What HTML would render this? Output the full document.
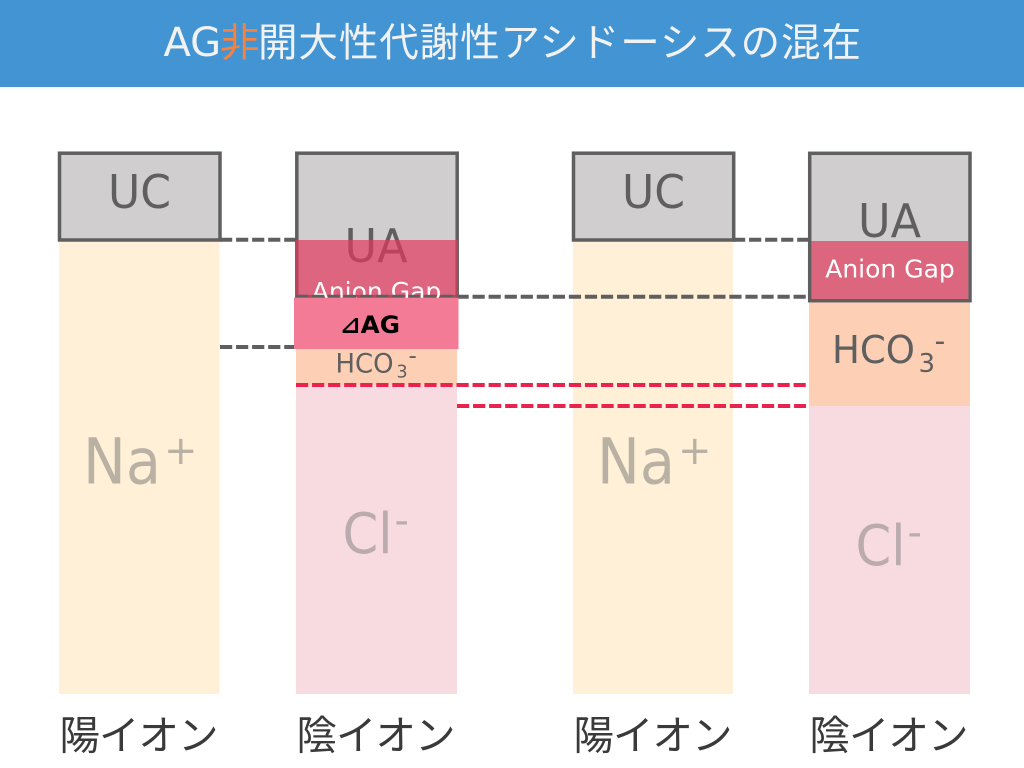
<!DOCTYPE html>
<html lang="ja"><head><meta charset="utf-8">
<style>
html,body{margin:0;padding:0;background:#fff}
svg{display:block}
text{font-family:"DejaVu Sans","Noto Sans CJK JP",sans-serif}
.j{font-family:"Noto Sans CJK JP","WenQuanYi Zen Hei",sans-serif}
</style></head><body>
<svg width="1024" height="768" viewBox="0 0 1024 768" xmlns="http://www.w3.org/2000/svg">
<rect width="1024" height="768" fill="#fff"/>
<rect width="1024" height="87" fill="#4394d2"/>
<text x="163.500" y="56" font-size="40" fill="#f2f2f2">AG</text>
<text class="j" x="220" y="56.500" font-size="39.500" fill="#f58240">非</text>
<text class="j" x="258" y="56.500" font-size="39.500" fill="#f2f2f2" textLength="603" lengthAdjust="spacing">開大性代謝性アシドーシスの混在</text>

<!-- bar 1 -->
<rect x="59" y="240" width="160.500" height="454" fill="#fff0d7"/>
<rect x="59.500" y="153.200" width="160.500" height="86.800" fill="#d0cecf" stroke="#605f5f" stroke-width="3.500"/>
<text x="108" y="208" font-size="46" fill="#5f5f5f" textLength="63" lengthAdjust="spacingAndGlyphs">UC</text>
<text x="83" y="483.500" font-size="63" fill="#b9b1a3" textLength="78" lengthAdjust="spacingAndGlyphs">Na</text>
<text x="164" y="464" font-size="40" fill="#b9b1a3">+</text>

<!-- bar 2 -->
<rect x="296" y="349" width="161" height="36" fill="#fdcfb4"/>
<rect x="296" y="385" width="161" height="309" fill="#f8dbe1"/>
<rect x="296.800" y="153.200" width="160.400" height="143.500" fill="#d0cecf" stroke="#605f5f" stroke-width="3.500"/>
<text x="344.500" y="262" font-size="46" fill="#5f5f5f" textLength="63" lengthAdjust="spacingAndGlyphs">UA</text>
<rect x="295" y="240" width="163" height="57" fill="#e3395d" fill-opacity=".7"/>
<text x="376.500" y="300" font-size="25" fill="#fff" text-anchor="middle">Anion Gap</text>
<text x="335.500" y="372.500" font-size="26.500" fill="#5f5f5f" textLength="58" lengthAdjust="spacingAndGlyphs">HCO</text>
<text x="396.500" y="377.700" font-size="17.500" fill="#5f5f5f">3</text>
<text x="408.500" y="363.700" font-size="23" fill="#5f5f5f">-</text>
<text x="342.500" y="553" font-size="56" fill="#b9abae" textLength="50" lengthAdjust="spacingAndGlyphs">Cl</text>
<text x="394.500" y="534" font-size="40" fill="#b9abae">-</text>

<!-- bar 3 -->
<rect x="573" y="240" width="160" height="454" fill="#fff0d7"/>
<rect x="573.500" y="153.200" width="160.200" height="86.800" fill="#d0cecf" stroke="#605f5f" stroke-width="3.500"/>
<text x="622" y="208" font-size="46" fill="#5f5f5f" textLength="63" lengthAdjust="spacingAndGlyphs">UC</text>
<text x="597" y="483.500" font-size="63" fill="#b9b1a3" textLength="78" lengthAdjust="spacingAndGlyphs">Na</text>
<text x="678" y="464" font-size="40" fill="#b9b1a3">+</text>

<!-- bar 4 -->
<rect x="809" y="301" width="161" height="105" fill="#fdcfb4"/>
<rect x="809" y="406" width="161" height="288" fill="#f8dbe1"/>
<rect x="809.700" y="153.300" width="160.300" height="147.400" fill="#d0cecf" stroke="#605f5f" stroke-width="3.500"/>
<rect x="811.500" y="241" width="156.800" height="58" fill="#dd667f"/>
<text x="858" y="237" font-size="46" fill="#5f5f5f" textLength="63" lengthAdjust="spacingAndGlyphs">UA</text>
<text x="890" y="277.500" font-size="25" fill="#fff" text-anchor="middle">Anion Gap</text>
<text x="832" y="363" font-size="38" fill="#5f5f5f" textLength="83" lengthAdjust="spacingAndGlyphs">HCO</text>
<text x="918.500" y="372" font-size="26" fill="#5f5f5f">3</text>
<text x="934.500" y="351" font-size="30" fill="#5f5f5f">-</text>
<text x="855.500" y="565" font-size="56" fill="#b9abae" textLength="50" lengthAdjust="spacingAndGlyphs">Cl</text>
<text x="907.500" y="546" font-size="40" fill="#b9abae">-</text>

<!-- connectors -->
<line x1="220" y1="239.700" x2="296" y2="239.700" stroke="#605f5f" stroke-width="4" stroke-dasharray="12.200 3.850"/>
<line x1="733" y1="239.700" x2="809" y2="239.700" stroke="#605f5f" stroke-width="4" stroke-dasharray="12.200 3.850"/>
<line x1="220" y1="347" x2="294" y2="347" stroke="#605f5f" stroke-width="4" stroke-dasharray="12.200 3.850"/>
<line x1="296" y1="296.700" x2="806" y2="296.700" stroke="#605f5f" stroke-width="4" stroke-dasharray="12.200 3.850"/>
<line x1="296" y1="385" x2="806" y2="385" stroke="#e8234d" stroke-width="4" stroke-dasharray="12.200 3.850"/>
<line x1="457" y1="406" x2="806" y2="406" stroke="#e8234d" stroke-width="4" stroke-dasharray="12.200 3.850"/>

<!-- delta AG -->
<rect x="294" y="297.700" width="164.500" height="51.300" fill="#f37b96"/>
<text x="340" y="333" font-size="24" font-weight="bold" fill="#000" textLength="60" lengthAdjust="spacingAndGlyphs">⊿AG</text>

<!-- labels -->
<text class="j" x="59.500" y="749.500" font-size="40.500" fill="#3a3a3a" textLength="159" lengthAdjust="spacing">陽イオン</text>
<text class="j" x="296.500" y="749.500" font-size="40.500" fill="#3a3a3a" textLength="159" lengthAdjust="spacing">陰イオン</text>
<text class="j" x="573.500" y="749.500" font-size="40.500" fill="#3a3a3a" textLength="159" lengthAdjust="spacing">陽イオン</text>
<text class="j" x="809.500" y="749.500" font-size="40.500" fill="#3a3a3a" textLength="159" lengthAdjust="spacing">陰イオン</text>
</svg>
</body></html>
